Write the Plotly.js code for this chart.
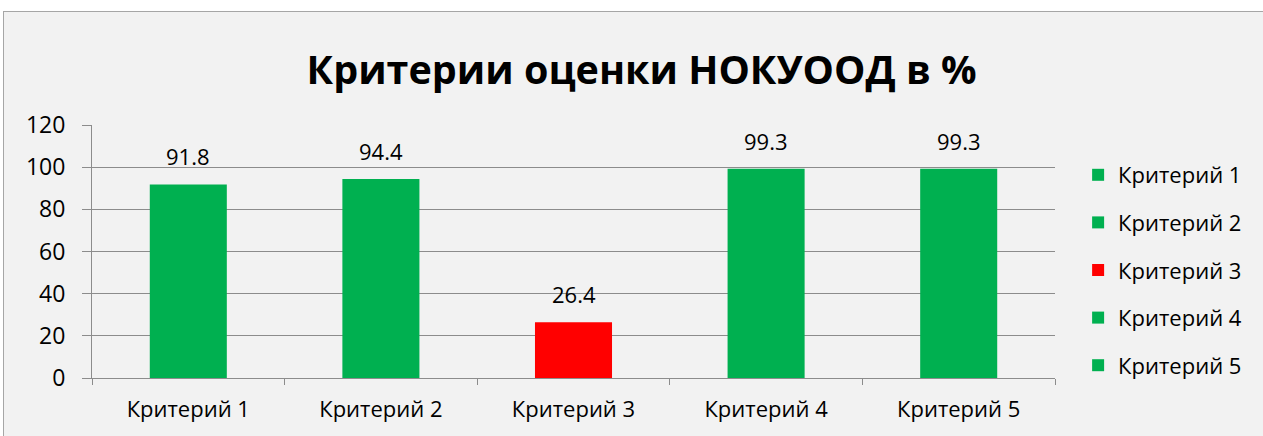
<!DOCTYPE html>
<html><head><meta charset="utf-8">
<script src="https://cdn.plot.ly/plotly-3.0.1.min.js"></script>
<style>
html,body{margin:0;padding:0;background:#fff;width:1263px;height:436px;overflow:hidden;}
#frame{position:absolute;left:3px;top:11px;width:1280px;height:440px;border:1px solid #a6a6a6;background:#f2f2f2;}
#chart{position:absolute;left:0;top:0;width:1263px;height:436px;}
</style></head>
<body>
<div id="frame"></div>
<div id="chart"></div>
<script>
const categories = ["Критерий 1","Критерий 2","Критерий 3","Критерий 4","Критерий 5"];
const values = [91.8, 94.4, 26.4, 99.3, 99.3];
const barColors = ["#00b050","#00b050","#ff0000","#00b050","#00b050"];
const yTicks = [0,20,40,60,80,100,120];
const chartTitle = "Критерии оценки НОКУООД в %";

const FONT = "Open Sans, Noto Sans, sans-serif";
const traces = categories.map((c,i)=>({
  type:"bar", x:[c], y:[values[i]], name:c,
  marker:{color:barColors[i]}, width:0.4,
  legendgroup:"g"+i, hoverinfo:"x+y"
}));
const annotations = categories.map((c,i)=>({
  x:c, y:values[i], xref:"x", yref:"y", text:values[i].toFixed(1),
  showarrow:false, yanchor:"bottom", yshift:11,
  font:{family:FONT,size:22,color:"#000"}
}));
const layout = {
  width:1263, height:436,
  paper_bgcolor:"rgba(0,0,0,0)", plot_bgcolor:"rgba(0,0,0,0)",
  margin:{l:92,r:208,t:125,b:58,pad:0},
  barmode:"overlay",
  title:{text:"<b>"+chartTitle+"</b>", x:0.508, xanchor:"center", y:1-70/436, yanchor:"middle", yref:"container",
    font:{family:FONT,size:39.5,color:"#000"}},
  xaxis:{type:"category", categoryorder:"array", categoryarray:categories,
    showline:true, linecolor:"#8c8c8c", linewidth:1,
    ticks:"outside", tickson:"boundaries", ticklen:6, tickcolor:"#8c8c8c",
    ticklabelstandoff:12,
    tickfont:{family:FONT,size:22,color:"#000"}, showgrid:false},
  yaxis:{range:[0,120], tickvals:yTicks, ticktext:yTicks.map(String),
    showline:true, linecolor:"#8c8c8c", linewidth:1,
    ticks:"outside", ticklen:9, tickcolor:"#8c8c8c", ticklabelstandoff:12,
    showgrid:true, gridcolor:"#8c8c8c", gridwidth:1, zeroline:false,
    tickfont:{family:FONT,size:23,color:"#000"}},
  legend:{x:1.024, xanchor:"left", y:1-(175-125-21)/253, yanchor:"top", yref:"paper",
    traceorder:"grouped", tracegroupgap:16, bgcolor:"rgba(0,0,0,0)",
    font:{family:FONT,size:22,color:"#000"}},
  annotations:annotations,
  showlegend:true
};
Plotly.newPlot("chart", traces, layout, {staticPlot:true, displayModeBar:false});
</script>
</body></html>
